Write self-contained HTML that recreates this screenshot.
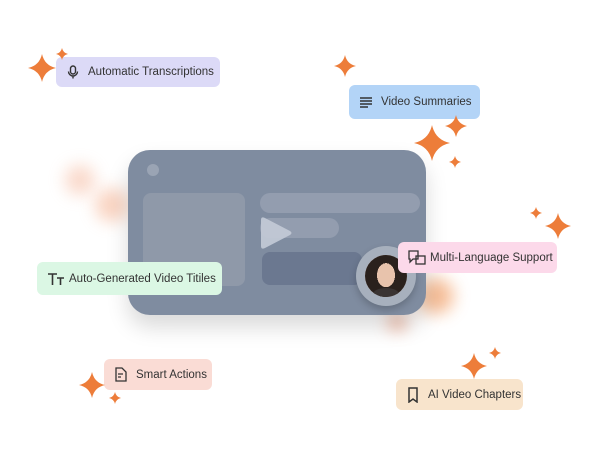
<!DOCTYPE html>
<html><head><style>
body{margin:0;width:600px;height:453px;background:#fff;position:relative;overflow:hidden;font-family:"Liberation Sans",sans-serif}
.a{position:absolute}
.tag{position:absolute;border-radius:6px;font-size:11.5px;color:#333;display:flex;align-items:center;box-sizing:border-box;padding-left:32px}
.tag svg{position:absolute;left:10px;top:50%;transform:translateY(-50%)}
.blob{position:absolute;border-radius:50%;filter:blur(8px)}
</style></head><body>
<div class="blob" style="left:65px;top:165px;width:30px;height:30px;background:#f6c0a8;opacity:.6"></div>
<div class="blob" style="left:95px;top:188px;width:34px;height:34px;background:#f6b89a;opacity:.6"></div>
<div class="blob" style="left:418px;top:278px;width:36px;height:36px;background:#f3a46e;opacity:.7"></div>
<div class="blob" style="left:388px;top:313px;width:18px;height:18px;background:#f2a080;opacity:.7"></div>
<div class="a" style="left:128px;top:150px;width:298px;height:165px;background:#7f8ca0;border-radius:22px;box-shadow:0 12px 22px rgba(0,0,0,.15)">
 <div class="a" style="left:19px;top:14px;width:12px;height:12px;border-radius:50%;background:#9aa4b4"></div>
 <div class="a" style="left:15px;top:43px;width:102px;height:93px;border-radius:8px;background:#8f99a9"></div>
 <div class="a" style="left:132px;top:43px;width:160px;height:20px;border-radius:10px;background:#939daf"></div>
 <div class="a" style="left:132px;top:68px;width:79px;height:20px;border-radius:10px;background:#939daf"></div>
 <div class="a" style="left:134px;top:102px;width:100px;height:33px;border-radius:8px;background:#6b7890"></div>
 <svg class="a" style="left:130px;top:66px" width="36" height="36"><path d="M3 4 Q3 0 7 2 L32 15 Q35 17 32 19 L7 32 Q3 34 3 30Z" fill="#c4cbd7" opacity=".9"/></svg>
 <div class="a" style="left:228px;top:96px;width:60px;height:60px;border-radius:50%;background:#a7b0bd;box-shadow:0 4px 8px rgba(0,0,0,.2)">
  <div class="a" style="left:9px;top:9px;width:42px;height:42px;border-radius:50%;background:#e3c4b4;overflow:hidden">
   <div class="a" style="left:0;top:0;width:42px;height:42px;background:radial-gradient(ellipse 9px 12px at 50% 48%,#e8c3ac 0 100%,#2a211d 100%)"></div>
   <div class="a" style="left:8px;top:33px;width:26px;height:12px;border-radius:50%;background:#3a3433"></div>
  </div>
 </div>
</div>
<div class="tag" style="left:56px;top:57px;width:164px;height:30px;background:#dcdaf7"><svg width="14" height="14" fill="none" stroke="#333" stroke-width="1.4"><rect x="4.5" y="1" width="5" height="8" rx="2.5"/><path d="M2.5 6.5a4.5 4.5 0 0 0 9 0M7 11v2.5"/></svg>Automatic Transcriptions</div>
<div class="tag" style="left:349px;top:85px;width:131px;height:34px;background:#b3d4f7"><svg width="14" height="14" stroke="#333" stroke-width="1.4"><path d="M1 3h12M1 6h12M1 9h12M1 12h8"/></svg>Video Summaries</div>
<div class="tag" style="left:398px;top:242px;width:159px;height:31px;background:#fcd9ea"><svg width="18" height="16" fill="none" stroke="#333" stroke-width="1.3"><path d="M1 1h9v8H5l-3 3V9H1z"/><rect x="8" y="6" width="9" height="8"/></svg>Multi-Language Support</div>
<div class="tag" style="left:37px;top:262px;width:185px;height:33px;background:#dbf7e4"><svg width="18" height="14" stroke="#333" stroke-width="1.6"><path d="M1 2h9M5.5 2v11M10 6h7M13.5 6v7"/></svg>Auto-Generated Video Titiles</div>
<div class="tag" style="left:104px;top:359px;width:108px;height:31px;background:#fadcd5"><svg width="14" height="16" fill="none" stroke="#333" stroke-width="1.3"><path d="M2 1h6l4 4v9H2z M4 7h5M4 10h3"/></svg>Smart Actions</div>
<div class="tag" style="left:396px;top:379px;width:127px;height:31px;background:#f8e4cc"><svg width="14" height="16" fill="none" stroke="#333" stroke-width="1.5"><path d="M3 1h8v14l-4-3-4 3z"/></svg>AI Video Chapters</div>
<svg class="a" style="left:0;top:0" width="600" height="453">
<defs><path id="s" d="M0 -1 Q0.18 -0.18 1 0 Q0.18 0.18 0 1 Q-0.18 0.18 -1 0 Q-0.18 -0.18 0 -1Z"/></defs>
<g fill="#ed7d3a">
<use href="#s" transform="translate(42,68) scale(14)"/>
<use href="#s" transform="translate(62,54) scale(6)"/>
<use href="#s" transform="translate(345,66) scale(11)"/>
<use href="#s" transform="translate(432,143) scale(18)"/>
<use href="#s" transform="translate(456,126) scale(11)"/>
<use href="#s" transform="translate(455,162) scale(6)"/>
<use href="#s" transform="translate(558,226) scale(13)"/>
<use href="#s" transform="translate(536,213) scale(6)"/>
<use href="#s" transform="translate(474,366) scale(13)"/>
<use href="#s" transform="translate(495,353) scale(6)"/>
<use href="#s" transform="translate(92,385) scale(13)"/>
<use href="#s" transform="translate(115,398) scale(6)"/>
</g></svg>
</body></html>
